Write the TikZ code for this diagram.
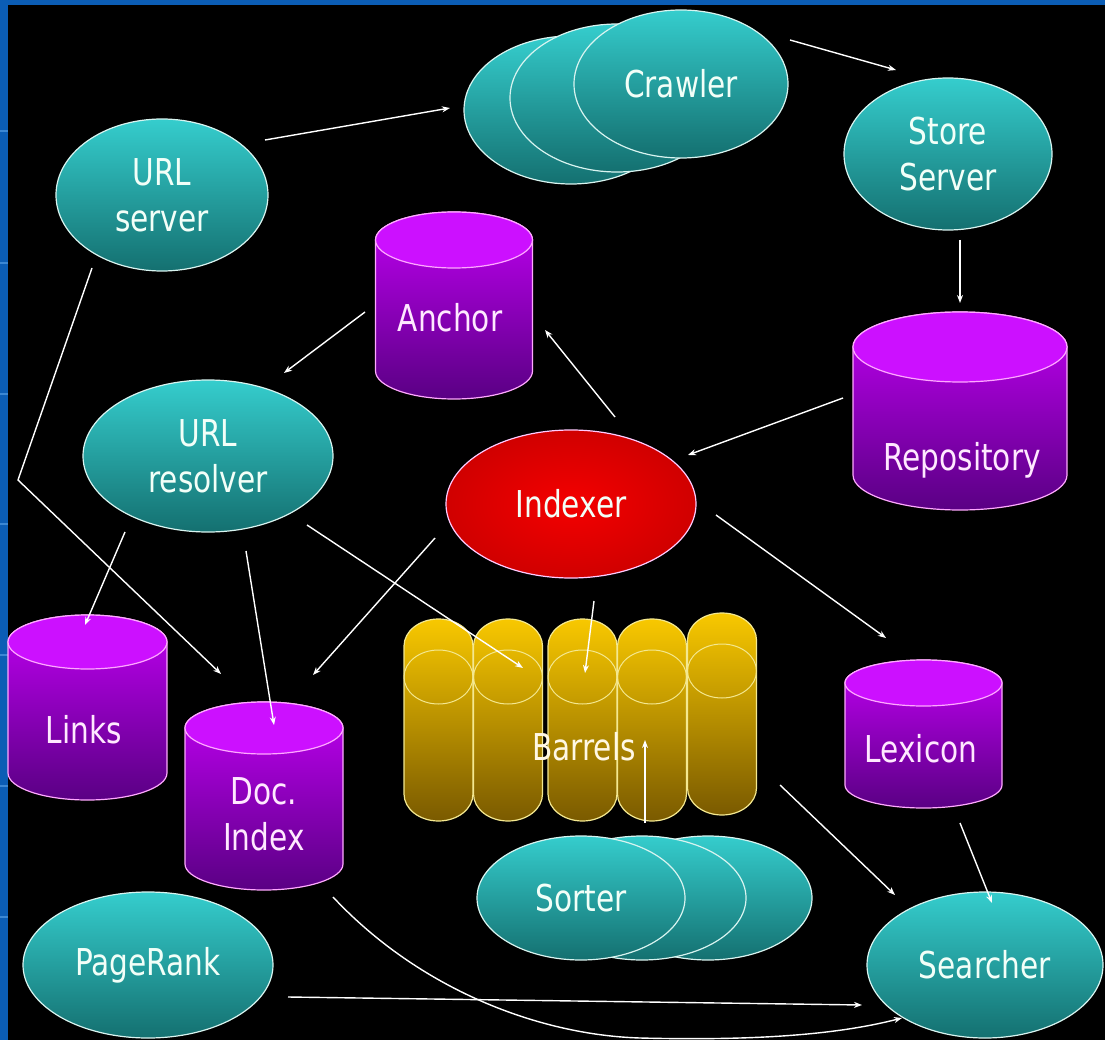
\documentclass[tikz,border=0pt]{standalone}
\usepackage{fontspec}
\setmainfont[FakeStretch=0.8]{DejaVu Sans}
\usetikzlibrary{calc,arrows.meta,shapes.geometric}

\definecolor{slideblue}{HTML}{0B5DB5}
\definecolor{stripe}{HTML}{3C88D4}
\definecolor{tealtop}{HTML}{35CDCD}
\definecolor{tealbot}{HTML}{147070}
\definecolor{tealrim}{HTML}{D8F4F0}
\definecolor{purtop}{HTML}{C000F2}
\definecolor{purbot}{HTML}{5A0084}
\definecolor{purface}{HTML}{CC10FF}
\definecolor{purrim}{HTML}{FFA8FF}
\definecolor{goldtop}{HTML}{F8C800}
\definecolor{goldmid}{HTML}{D2A400}
\definecolor{goldbot}{HTML}{7A5A00}
\definecolor{goldrim}{HTML}{F4E890}
\definecolor{redin}{HTML}{F40000}
\definecolor{redout}{HTML}{D00000}
\definecolor{inkcyan}{HTML}{F2FFF8}
\definecolor{inkpink}{HTML}{FFE8FF}
\definecolor{inkgold}{HTML}{FFF8E4}

% database drum: centre x, top y, width, height, cap radius
\newcommand\dbdrum[5]{%
  \pgfmathsetmacro\dbxl{#1-#3/2}%
  \pgfmathsetmacro\dbxr{#1+#3/2}%
  \pgfmathsetmacro\dbyt{#2+#5}%
  \pgfmathsetmacro\dbyb{#2+#4-#5}%
  \pgfmathsetmacro\dbrx{#3/2}%
  \path[top color=purtop, bottom color=purbot, draw=purrim, line width=1.2pt]
    (\dbxl,\dbyt) -- (\dbxl,\dbyb)
    arc[start angle=180, end angle=360, x radius=\dbrx pt, y radius=#5pt]
    -- (\dbxr,\dbyt)
    arc[start angle=0, end angle=180, x radius=\dbrx pt, y radius=#5pt] -- cycle;
  \fill[purface] (#1,\dbyt) ellipse[x radius=\dbrx pt, y radius=#5pt];
  \draw[purrim, line width=1.2pt] (#1,\dbyt) ellipse[x radius=\dbrx pt, y radius=#5pt];
}

% one barrel: centre x, top y
\newcommand\barrelcan[2]{%
  \pgfmathsetmacro\bxl{#1-34.5}%
  \pgfmathsetmacro\bxr{#1+34.5}%
  \pgfmathsetmacro\byt{#2+27}%
  \pgfmathsetmacro\byb{#2+175}%
  \pgfmathsetmacro\byc{#2+58}%
  \path[top color=goldtop, middle color=goldmid, bottom color=goldbot,
        draw=goldrim, line width=1.2pt]
    (\bxl,\byt) -- (\bxl,\byb)
    arc[start angle=180, end angle=360, x radius=34.5pt, y radius=27pt]
    -- (\bxr,\byt)
    arc[start angle=0, end angle=180, x radius=34.5pt, y radius=27pt] -- cycle;
  \draw[goldrim, line width=1pt] (#1,\byc) ellipse[x radius=34.5pt, y radius=27pt];
}

\tikzset{
  lbl/.style={font=\fontsize{37}{46}\selectfont, align=center},
  proc/.style={ellipse, draw=tealrim, line width=1.2pt, top color=tealtop,
    bottom color=tealbot, text=inkcyan, lbl, inner sep=0pt},
  redproc/.style={ellipse, draw=purrim!60!white, line width=1.2pt, shading=radial,
    inner color=redin, outer color=redout, text=inkcyan, lbl, inner sep=0pt},
  dbframe/.style={rectangle, draw=none, inner sep=0pt},
  dbtext/.style={lbl, text=inkpink},
  flow/.style={draw=white, line width=1.4pt, -{Stealth[length=8pt, width=6pt]}}
}

\begin{document}
\begin{tikzpicture}[x=1pt, y=-1pt]
\useasboundingbox (0,0) rectangle (1105,1040);
% slide background and frame
\fill[black] (0,0) rectangle (1105,1040);
\fill[slideblue] (0,0) rectangle (1105,5);
\fill[slideblue] (0,0) rectangle (8,1040);
\foreach \yy in {130,262,393,523,654,785,916}
  \fill[stripe] (0,\yy) rectangle (8,\yy+2);

% processes
\node[proc, minimum width=212pt, minimum height=152pt] (urlserver) at (162,195) {URL\\server};
\node[proc, minimum width=214pt, minimum height=148pt] (crawler3) at (571,110) {};
\node[proc, minimum width=214pt, minimum height=148pt] (crawler2) at (617,98) {};
\node[proc, minimum width=214pt, minimum height=148pt] (crawler) at (681,84) {Crawler};
\node[proc, minimum width=208pt, minimum height=152pt] (storeserver) at (948,154) {Store\\Server};
\node[proc, minimum width=250pt, minimum height=152pt] (urlresolver) at (208,456) {URL\\resolver};
\node[redproc, minimum width=250pt, minimum height=148pt] (indexer) at (571,504) {Indexer};
\node[proc, minimum width=250pt, minimum height=146pt] (pagerank) at (148,965) {PageRank};
\node[proc, minimum width=236pt, minimum height=146pt] (searcher) at (985,965) {Searcher};
\node[proc, minimum width=208pt, minimum height=124pt] (sorter3) at (708,898) {};
\node[proc, minimum width=208pt, minimum height=124pt] (sorter2) at (642,898) {};
\node[proc, minimum width=208pt, minimum height=124pt] (sorter) at (581,898) {Sorter};

% data stores
\dbdrum{454}{212}{157}{187}{28}
\node[dbframe, minimum width=157pt, minimum height=187pt] (anchordb) at (454,305.5) {};
\node[dbtext, anchor=base] at (450,332) {Anchor};

\dbdrum{960}{312}{214}{198}{35}
\node[dbframe, minimum width=214pt, minimum height=198pt] (repository) at (960,411) {};
\node[dbtext, anchor=base] at (962,470) {Repository};

\dbdrum{87.5}{615}{159}{185}{27}
\node[dbframe, minimum width=159pt, minimum height=185pt] (links) at (87.5,707.5) {};
\node[dbtext, anchor=base] at (84,743) {Links};

\dbdrum{264}{702}{158}{188}{26}
\node[dbframe, minimum width=158pt, minimum height=188pt] (docindex) at (264,796) {};
\node[dbtext] at (264,814) {Doc.\\Index};

\dbdrum{923.5}{660}{157}{148}{23}
\node[dbframe, minimum width=157pt, minimum height=148pt] (lexicon) at (923.5,734) {};
\node[dbtext, anchor=base] at (921,762) {Lexicon};

% barrels
\barrelcan{438.5}{619}
\barrelcan{508}{619}
\barrelcan{582.5}{619}
\barrelcan{652}{619}
\barrelcan{722}{613}
\node[dbframe, minimum width=353pt, minimum height=210pt] (barrels) at (580,718) {};

% data flow
\draw[flow] ($(urlserver)+(103,-55)$) -- ($(crawler3)+(-121,-2)$);
\draw[flow] ($(crawler)+(109,-44)$) -- ($(storeserver)+(-52,-84)$);
\draw[flow] ($(storeserver)+(12,86)$) -- ($(repository)+(0,-108)$);
\draw[flow] ($(repository)+(-117,-13)$) -- ($(indexer)+(117,-49)$);
\draw[flow] ($(indexer)+(44,-87)$) -- ($(anchordb)+(91,24.5)$);
\draw[flow] ($(anchordb)+(-89,6.5)$) -- ($(urlresolver)+(76,-83)$);
\draw[flow] ($(urlresolver)+(-83,76)$) -- ($(links)+(-2.5,-82.5)$);
\draw[flow] ($(urlresolver)+(38,95)$) -- ($(docindex)+(10,-71)$);
\draw[flow] ($(urlresolver)+(99,69)$) -- ($(barrels)+(-57,-50)$);
\coordinate (bend) at (18,480);
\draw[flow] ($(urlserver)+(-70,73)$) -- (bend) -- ($(docindex)+(-43,-122)$);
\draw[flow] ($(indexer)+(-136,34)$) -- ($(docindex)+(49,-121)$);
\draw[flow] ($(indexer)+(23,97)$) -- ($(barrels)+(5,-45)$);
\draw[flow] ($(indexer)+(145,11)$) -- ($(lexicon)+(-37.5,-96)$);
\draw[flow] ($(sorter)+(64,-75)$) -- ($(barrels)+(65,22)$);
\draw[flow] ($(barrels)+(200,67)$) -- ($(searcher)+(-90,-70)$);
\draw[flow] ($(lexicon)+(36.5,89)$) -- ($(searcher)+(7,-62)$);
\draw[flow] ($(pagerank)+(140,32)$) -- ($(searcher)+(-123,40)$);
\draw[flow] ($(docindex)+(69,101)$) .. controls (420,990) and (540,1035) .. (640,1038)
  .. controls (760,1041) and (840,1034) .. ($(searcher)+(-83,53)$);

\node[lbl, text=inkgold] at (584,747) {Barrels};
\end{tikzpicture}
\end{document}
